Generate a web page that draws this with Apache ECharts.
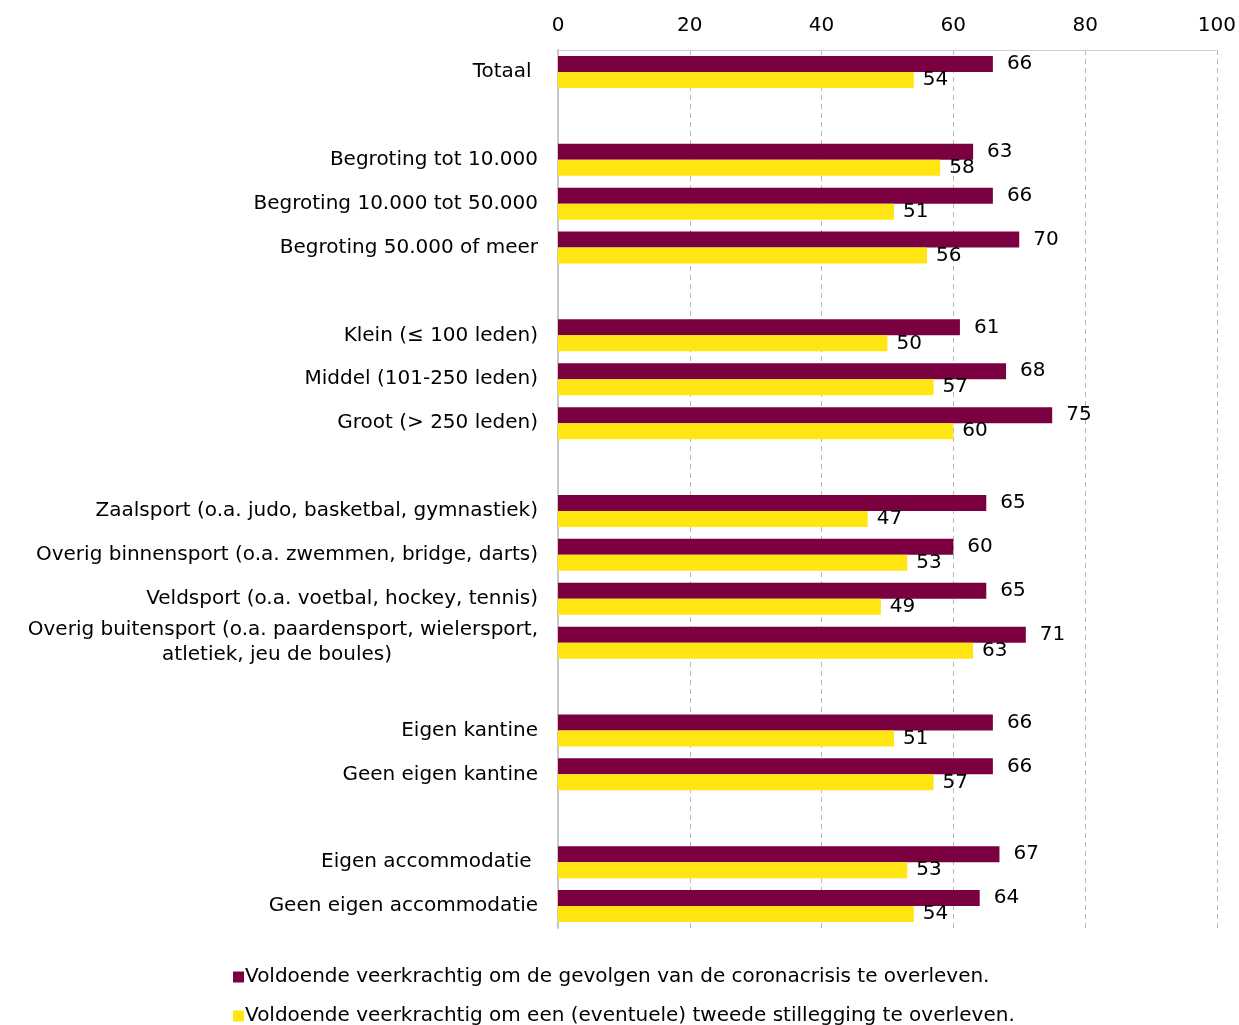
<!DOCTYPE html>
<html><head><meta charset="utf-8">
<script src="https://cdn.jsdelivr.net/npm/echarts@6/dist/echarts.min.js"></script>
<style>html,body{margin:0;padding:0;background:#fff}#c{width:1239px;height:1025px}</style>
</head><body><div id="c"></div>
<script>
const categories = [
  'Totaal ', '',
  'Begroting tot 10.000', 'Begroting 10.000 tot 50.000', 'Begroting 50.000 of meer', ' ',
  'Klein (≤ 100 leden)', 'Middel (101-250 leden)', 'Groot (> 250 leden)', '  ',
  'Zaalsport (o.a. judo, basketbal, gymnastiek)', 'Overig binnensport (o.a. zwemmen, bridge, darts)',
  'Veldsport (o.a. voetbal, hockey, tennis)', 'Overig buitensport (o.a. paardensport, wielersport,\natletiek, jeu de boules)', '   ',
  'Eigen kantine', 'Geen eigen kantine', '    ',
  'Eigen accommodatie ', 'Geen eigen accommodatie'
];
const seriesNames = [
  'Voldoende veerkrachtig om de gevolgen van de coronacrisis te overleven.',
  'Voldoende veerkrachtig om een (eventuele) tweede stillegging te overleven.'
];
const coronaValues = [66, null, 63, 66, 70, null, 61, 68, 75, null, 65, 60, 65, 71, null, 66, 66, null, 67, 64];
const stilleggingValues = [54, null, 58, 51, 56, null, 50, 57, 60, null, 47, 53, 49, 63, null, 51, 57, null, 53, 54];
const xTicks = [0, 20, 40, 60, 80, 100];

const FONT = 'DejaVu Sans';
const legendText = { fontSize: 20, color: '#000', fontFamily: FONT, padding: [0, 0, 0, -4] };
const chart = echarts.init(document.getElementById('c'));
chart.setOption({
  animation: false,
  textStyle: { fontFamily: FONT },
  grid: { left: 558, right: 22, top: 50, bottom: 97, containLabel: false },
  xAxis: {
    type: 'value', position: 'top', min: xTicks[0], max: xTicks[xTicks.length - 1], interval: 20,
    axisLine: { show: true, lineStyle: { color: '#d0d0d0' } },
    axisTick: { show: false },
    axisLabel: { fontSize: 20, color: '#000', margin: 14, fontFamily: FONT },
    splitLine: { show: true, lineStyle: { type: [5, 4], color: '#b8b8b8', width: 1 } }
  },
  yAxis: {
    type: 'category', inverse: true, data: categories,
    axisLine: { show: true, lineStyle: { color: '#c8c8c8', width: 2 } },
    axisTick: { show: false },
    axisLabel: {
      fontSize: 20, color: '#000', margin: 20, fontFamily: FONT, interval: 0,
      formatter: function (v) {
        if (v.indexOf('\n') >= 0) {
          const p = v.split('\n');
          return '{a|' + p[0] + '}\n{b|' + p[1] + '}';
        }
        return v;
      },
      rich: {
        a: { fontSize: 20, fontFamily: FONT, color: '#000', lineHeight: 25 },
        b: { fontSize: 20, fontFamily: FONT, color: '#000', lineHeight: 25, padding: [0, 146, 0, 0] }
      }
    }
  },
  legend: [
    { left: 228, top: 962, itemWidth: 11, itemHeight: 11, icon: 'rect', textStyle: legendText, data: [seriesNames[0]] },
    { left: 228, top: 1001, itemWidth: 11, itemHeight: 11, icon: 'rect', textStyle: legendText, data: [seriesNames[1]] }
  ],
  series: [
    {
      name: seriesNames[0], type: 'bar', data: coronaValues, barWidth: 16, barGap: '0%',
      itemStyle: { color: '#7B003F' },
      label: { show: true, position: 'right', distance: 14, fontSize: 20, color: '#000', fontFamily: FONT }
    },
    {
      name: seriesNames[1], type: 'bar', data: stilleggingValues, barWidth: 16, barGap: '0%',
      itemStyle: { color: '#FFE512' },
      label: { show: true, position: 'right', distance: 9, fontSize: 20, color: '#000', fontFamily: FONT }
    }
  ]
});
</script></body></html>
